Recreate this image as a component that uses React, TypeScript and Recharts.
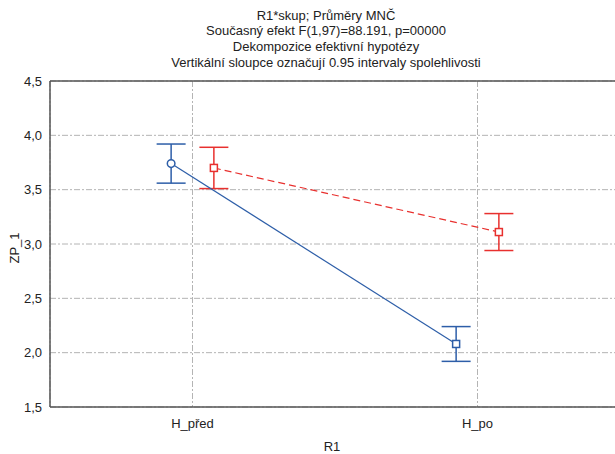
import React from 'react';
import { LineChart, Line, XAxis, YAxis, CartesianGrid, ErrorBar, ReferenceLine, Label } from 'recharts';

const categories = ['H_před', 'H_po'];
const blueMeans = [3.74, 2.08];
const blueLow = [3.56, 1.92];
const blueHigh = [3.92, 2.24];
const redMeans = [3.70, 3.11];
const redLow = [3.51, 2.94];
const redHigh = [3.89, 3.28];
const yTicks = [1.5, 2.0, 2.5, 3.0, 3.5, 4.0, 4.5];
const titleLines = [
  'R1*skup; Průměry MNČ',
  'Současný efekt F(1,97)=88.191, p=00000',
  'Dekompozice efektivní hypotézy',
  'Vertikální sloupce označují 0.95 intervaly spolehlivosti',
];

const OFFSET = 0.075;
const BLUE = '#2d5ea8';
const RED = '#e8302e';
const FONT = '"Liberation Sans", Arial, sans-serif';

const build = (means: number[], low: number[], high: number[], off: number) =>
  means.map((m, i) => ({ x: i + off, y: m, err: [m - low[i], high[i] - m] }));

const blueData = build(blueMeans, blueLow, blueHigh, -OFFSET);
const redData = build(redMeans, redLow, redHigh, OFFSET);

const BlueDot = (props: any) => {
  const { cx, cy, index } = props;
  if (cx == null || cy == null) return null;
  if (index === 0) {
    return <circle key={'b' + index} cx={cx} cy={cy} r={3.8} fill="#fff" stroke={BLUE} strokeWidth={1.5} />;
  }
  return <rect key={'b' + index} x={cx - 3.5} y={cy - 3.5} width={7} height={7} fill="#fff" stroke={BLUE} strokeWidth={1.5} />;
};

const RedDot = (props: any) => {
  const { cx, cy, index } = props;
  if (cx == null || cy == null) return null;
  return <rect key={'r' + index} x={cx - 3.5} y={cy - 3.5} width={7} height={7} fill="#fff" stroke={RED} strokeWidth={1.5} />;
};

const YLabel = () => (
  <text x={14} y={248} transform="rotate(-90 14 248)" textAnchor="middle" dominantBaseline="central"
    fontSize={13} fontFamily={FONT} fill="#222">ZP_1</text>
);

const XLabel = () => (
  <text x={332} y={446} textAnchor="middle" dominantBaseline="central"
    fontSize={13} fontFamily={FONT} fill="#222">R1</text>
);

export default function App() {
  return (
    <div style={{ position: 'absolute', left: 0, top: 0, width: 615, height: 454, overflow: 'hidden', background: '#fff' }}>
      <LineChart width={620} height={454} margin={{ top: 81, right: 0, bottom: 0, left: 0 }}>
        <CartesianGrid stroke="#b4b4b4" strokeDasharray="6 2 2 2" strokeWidth={1} />
        <XAxis
          type="number"
          dataKey="x"
          domain={[-0.5, 1.5]}
          ticks={[0, 1]}
          tickFormatter={(v: number) => categories[Math.round(v)] ?? ''}
          height={47}
          tickSize={0}
          tickMargin={12}
          stroke="#555"
          strokeWidth={1.5}
          tick={{ fill: '#222', fontSize: 13, fontFamily: FONT }}
          allowDataOverflow
        >
          <Label content={<XLabel />} />
        </XAxis>
        <YAxis
          type="number"
          domain={[1.5, 4.5]}
          ticks={yTicks}
          tickFormatter={(v: number) => v.toFixed(1).replace('.', ',')}
          width={50}
          tickSize={0}
          tickMargin={8}
          stroke="#555"
          strokeWidth={1.5}
          tick={{ fill: '#222', fontSize: 13, fontFamily: FONT }}
          allowDataOverflow
        >
          <Label content={<YLabel />} />
        </YAxis>
        <ReferenceLine y={4.5} stroke="#555" strokeWidth={1.5} />
        <Line
          data={redData}
          dataKey="y"
          stroke={RED}
          strokeWidth={1.2}
          strokeDasharray="7 4"
          dot={<RedDot />}
          activeDot={false}
          isAnimationActive={false}
        >
          <ErrorBar dataKey="err" width={14.5} stroke={RED} strokeWidth={1.5} direction="y" />
        </Line>
        <Line
          data={blueData}
          dataKey="y"
          stroke={BLUE}
          strokeWidth={1.2}
          dot={<BlueDot />}
          activeDot={false}
          isAnimationActive={false}
        >
          <ErrorBar dataKey="err" width={14.5} stroke={BLUE} strokeWidth={1.5} direction="y" />
        </Line>
      </LineChart>
      <svg width={615} height={80} style={{ position: 'absolute', left: 0, top: 0 }}>
        {titleLines.map((t, i) => (
          <text key={i} x={326} y={15 + i * 15.7} textAnchor="middle" dominantBaseline="central"
            fontSize={13} fontFamily={FONT} fill="#222">{t}</text>
        ))}
      </svg>
    </div>
  );
}
